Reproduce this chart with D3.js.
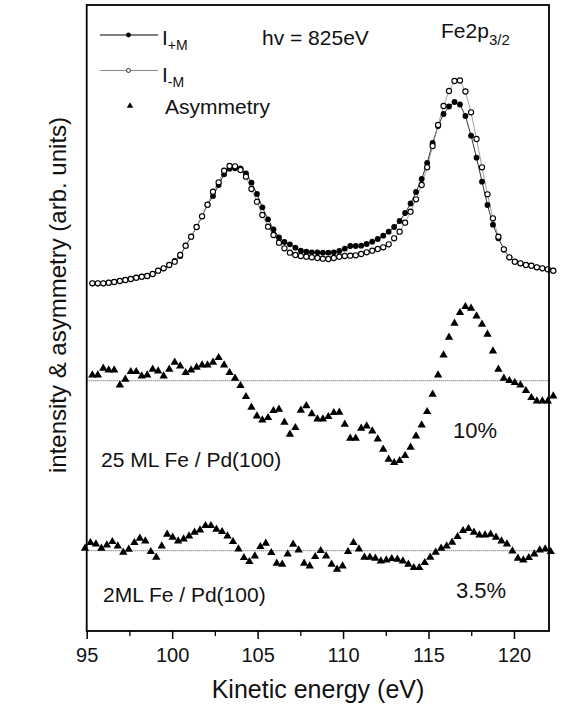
<!DOCTYPE html>
<html>
<head>
<meta charset="utf-8">
<script src="https://cdn.jsdelivr.net/npm/d3@7.9.0/dist/d3.min.js"></script>
<style>
  body { margin: 0; background: #fff; }
  text { font-family: "Liberation Sans", Arial, sans-serif; fill: #111; }
</style>
</head>
<body>
<svg id="chart" width="561" height="708"></svg>
<script>
// kinetic energy grid for the intensity spectra and the 25 ML asymmetry
const energy = [95.33,95.65,95.97,96.29,96.61,96.94,97.26,97.58,97.90,98.22,
  98.54,98.86,99.18,99.50,99.83,100.15,100.47,100.79,101.11,101.43,
  101.75,102.07,102.39,102.72,103.04,103.36,103.68,104.00,104.32,104.64,
  104.96,105.28,105.61,105.93,106.25,106.57,106.89,107.21,107.53,107.85,
  108.17,108.50,108.82,109.14,109.46,109.78,110.10,110.42,110.74,111.06,
  111.38,111.71,112.03,112.35,112.67,112.99,113.31,113.63,113.95,114.27,
  114.60,114.92,115.24,115.56,115.88,116.20,116.52,116.84,117.16,117.49,
  117.81,118.13,118.45,118.77,119.09,119.41,119.73,120.05,120.38,120.70,
  121.02,121.34,121.66,121.98,122.30];

// I(+M), filled circles
const iPlus = [34.77,34.77,34.77,34.83,34.90,35.00,35.10,35.20,35.33,35.43,
  35.50,35.70,36.03,36.27,36.60,37.00,37.50,38.53,39.43,40.40,
  41.47,42.63,43.50,44.60,45.67,46.23,46.27,46.27,45.77,44.83,
  43.70,42.37,41.17,40.17,39.37,38.90,38.67,38.33,38.03,37.93,
  37.87,37.87,37.83,37.83,37.87,38.00,38.23,38.50,38.50,38.53,
  38.70,38.93,39.20,39.53,39.93,40.40,41.00,41.80,42.75,43.90,
  45.20,46.80,48.80,50.50,51.70,52.45,52.90,52.65,51.50,49.53,
  47.33,44.93,42.60,40.63,39.27,38.15,37.37,36.93,36.77,36.60,
  36.53,36.37,36.27,36.17,36.03];

// I(-M), open circles
const iMinus = [34.77,34.77,34.77,34.83,34.90,35.00,35.10,35.20,35.33,35.43,
  35.50,35.70,36.03,36.27,36.60,36.93,37.60,38.53,39.43,40.40,
  41.47,42.63,43.93,44.87,46.03,46.50,46.47,46.10,45.43,44.20,
  42.93,41.60,40.43,39.60,38.83,38.27,37.83,37.60,37.50,37.43,
  37.37,37.30,37.23,37.20,37.30,37.43,37.50,37.53,37.57,37.70,
  37.87,38.03,38.20,38.37,38.67,39.27,39.93,40.83,41.93,43.17,
  44.60,46.37,48.50,50.60,52.50,54.00,55.00,55.05,53.95,51.87,
  49.20,46.37,43.67,41.27,39.43,38.17,37.37,36.93,36.77,36.60,
  36.53,36.37,36.27,36.17,36.03];

// asymmetry, 25 ML Fe / Pd(100) (offset from its baseline)
const asym25 = [0.57,0.57,1.24,1.07,1.07,-0.43,0.14,0.90,0.90,0.47,
  0.57,1.14,0.97,0.47,1.14,1.84,1.47,0.80,1.07,1.34,
  1.57,1.57,1.84,2.30,1.57,0.80,0.24,-0.50,-1.60,-2.66,
  -3.53,-3.93,-3.70,-3.00,-2.86,-4.16,-5.36,-4.70,-2.96,-2.51,
  -3.31,-3.83,-3.83,-3.60,-3.20,-3.16,-4.36,-5.76,-5.76,-4.76,
  -4.53,-5.03,-5.83,-6.86,-7.86,-8.20,-8.00,-7.50,-6.66,-5.53,
  -4.43,-3.10,-1.36,0.57,2.57,4.34,5.74,6.80,7.40,7.24,
  6.47,5.64,4.64,2.97,1.14,0.24,0.00,-0.20,-0.43,-1.00,
  -1.70,-2.03,-2.03,-2.03,-1.53];

// energy grid of the 2 ML measurement
const energy2 = [94.90,95.22,95.54,95.86,96.18,96.50,96.82,97.14,97.46,97.79,
  98.11,98.43,98.75,99.07,99.39,99.71,100.03,100.35,100.67,100.99,
  101.31,101.63,101.95,102.27,102.59,102.92,103.24,103.56,103.88,104.20,
  104.52,104.84,105.16,105.48,105.80,106.12,106.44,106.76,107.08,107.40,
  107.72,108.05,108.37,108.69,109.01,109.33,109.65,109.97,110.29,110.61,
  110.93,111.25,111.57,111.89,112.21,112.53,112.85,113.18,113.50,113.82,
  114.14,114.46,114.78,115.10,115.42,115.74,116.06,116.38,116.70,117.02,
  117.34,117.66,117.98,118.31,118.63,118.95,119.27,119.59,119.91,120.23,
  120.55,120.87,121.19,121.51,121.83,122.15];

// asymmetry, 2 ML Fe / Pd(100)
const asym2 = [0.24,0.80,0.67,0.24,0.57,0.90,0.47,-0.16,0.14,0.80,
  1.24,0.97,-0.10,-0.66,0.47,1.64,1.34,0.97,1.17,1.47,
  1.84,2.07,2.50,2.50,2.14,1.90,1.47,0.90,0.17,-0.70,
  -1.10,-0.53,0.40,0.74,-0.20,-1.26,-1.36,-0.33,0.64,0.07,
  -1.26,-1.53,-0.60,0.00,-0.53,-1.36,-1.86,-1.53,-0.10,0.80,
  0.17,-0.66,-0.66,-0.76,-1.03,-0.93,-0.80,-0.86,-1.03,-1.36,
  -1.70,-1.70,-1.20,-0.66,-0.16,0.24,0.47,0.84,1.40,2.00,
  2.20,1.84,1.57,1.57,1.64,1.34,0.97,0.67,-0.03,-0.76,
  -0.93,-0.70,-0.33,0.07,0.17,-0.10];

const base25 = 25.03;   // zero line of the 25 ML asymmetry
const base2 = 8.03;     // zero line of the 2 ML asymmetry

const xTicks = [95, 100, 105, 110, 115, 120];
const xMinorTicks = [97.5, 102.5, 107.5, 112.5, 117.5];

const svg = d3.select("#chart");

const x = d3.scaleLinear().domain([95, 122.05]).range([86.7, 549]);
const y = d3.scaleLinear().domain([0, 62.6]).range([631, 5]);

const plus = energy.map((e, i) => ({ e: e, v: iPlus[i] }));
const minus = energy.map((e, i) => ({ e: e, v: iMinus[i] }));
const a25 = energy.map((e, i) => ({ e: e, v: base25 + asym25[i] }));
const a2 = energy2.map((e, i) => ({ e: e, v: base2 + asym2[i] }));

// zero lines of the asymmetry curves
[base25, base2].forEach(b => {
  svg.append("line")
    .attr("x1", x.range()[0])
    .attr("x2", x.range()[1])
    .attr("y1", y(b))
    .attr("y2", y(b))
    .attr("stroke", "#555")
    .attr("stroke-width", 1)
    .attr("stroke-dasharray", "1,1");
});

const line = d3.line().x(d => x(d.e)).y(d => y(d.v));

svg.append("path")
  .attr("d", line(plus))
  .attr("fill", "none")
  .attr("stroke", "#000")
  .attr("stroke-width", 0.8);

svg.append("path")
  .attr("d", line(minus))
  .attr("fill", "none")
  .attr("stroke", "#888")
  .attr("stroke-width", 0.8);

svg.append("g")
  .selectAll("circle")
  .data(plus)
  .join("circle")
  .attr("cx", d => x(d.e))
  .attr("cy", d => y(d.v))
  .attr("r", 2.9)
  .attr("fill", "#000");

svg.append("g")
  .selectAll("circle")
  .data(minus)
  .join("circle")
  .attr("cx", d => x(d.e))
  .attr("cy", d => y(d.v))
  .attr("r", 2.6)
  .attr("fill", "#fff")
  .attr("stroke", "#000")
  .attr("stroke-width", 1.1);

const tri = d3.symbol(d3.symbolTriangle, 30);

[a25, a2].forEach(series => {
  svg.append("g")
    .selectAll("path")
    .data(series)
    .join("path")
    .attr("d", tri)
    .attr("transform", d => `translate(${x(d.e)},${y(d.v)})`)
    .attr("fill", "#000");
});

// frame
svg.append("rect")
  .attr("x", 86.7)
  .attr("y", 5)
  .attr("width", 549 - 86.7)
  .attr("height", 626)
  .attr("fill", "none")
  .attr("stroke", "#000")
  .attr("stroke-width", 1.8);

// bottom axis
const xAxis = svg.append("g")
  .attr("transform", "translate(0,631)")
  .call(d3.axisBottom(x).tickValues(xTicks).tickSize(8).tickPadding(8.5));
xAxis.select(".domain").remove();
xAxis.selectAll("line").attr("stroke-width", 1.5);
xAxis.selectAll("text")
  .style("font-family", "'Liberation Sans', Arial, sans-serif")
  .style("font-size", "20px")
  .attr("fill", "#111");

const xMinor = svg.append("g")
  .attr("transform", "translate(0,631)")
  .call(d3.axisBottom(x).tickValues(xMinorTicks).tickSize(5).tickFormat(""));
xMinor.select(".domain").remove();
xMinor.selectAll("line").attr("stroke-width", 1.3);

// axis titles
svg.append("text")
  .attr("x", 318)
  .attr("y", 698)
  .attr("text-anchor", "middle")
  .style("font-size", "25px")
  .text("Kinetic energy (eV)");

svg.append("text")
  .attr("transform", "translate(66,295) rotate(-90)")
  .attr("text-anchor", "middle")
  .style("font-size", "24px")
  .text("intensity & asymmetry (arb. units)");

// legend
const legend = svg.append("g");
legend.append("line")
  .attr("x1", 100).attr("x2", 158).attr("y1", 35).attr("y2", 35)
  .attr("stroke", "#000").attr("stroke-width", 1);
legend.append("circle")
  .attr("cx", 128.5).attr("cy", 35).attr("r", 2.4).attr("fill", "#000");
legend.append("line")
  .attr("x1", 100).attr("x2", 158).attr("y1", 70.5).attr("y2", 70.5)
  .attr("stroke", "#888").attr("stroke-width", 1);
legend.append("circle")
  .attr("cx", 128.5).attr("cy", 70.5).attr("r", 2)
  .attr("fill", "#fff").attr("stroke", "#000").attr("stroke-width", 0.8);
legend.append("path")
  .attr("d", d3.symbol(d3.symbolTriangle, 18)())
  .attr("transform", "translate(130,106)")
  .attr("fill", "#000");

const lp = legend.append("text").attr("x", 162).attr("y", 45).style("font-size", "21px");
lp.append("tspan").text("I");
lp.append("tspan").attr("dy", 5).style("font-size", "14px").text("+M");

const lm = legend.append("text").attr("x", 162).attr("y", 82).style("font-size", "21px");
lm.append("tspan").text("I");
lm.append("tspan").attr("dy", 5).style("font-size", "14px").text("-M");

legend.append("text")
  .attr("x", 165).attr("y", 114)
  .style("font-size", "21px")
  .text("Asymmetry");

svg.append("text")
  .attr("x", 262).attr("y", 45)
  .style("font-size", "21px")
  .text("hv = 825eV");

const fe = svg.append("text").attr("x", 441).attr("y", 38).style("font-size", "21px");
fe.append("tspan").text("Fe2p");
fe.append("tspan").attr("dy", 7).style("font-size", "15px").text("3/2");

// sample labels
svg.append("text")
  .attr("x", 101).attr("y", 467)
  .style("font-size", "21px")
  .text("25 ML Fe / Pd(100)");

svg.append("text")
  .attr("x", 103).attr("y", 602)
  .style("font-size", "21px")
  .text("2ML Fe / Pd(100)");

svg.append("text")
  .attr("x", 453).attr("y", 438)
  .style("font-size", "22px")
  .text("10%");

svg.append("text")
  .attr("x", 456).attr("y", 598)
  .style("font-size", "22px")
  .text("3.5%");
</script>
</body>
</html>
